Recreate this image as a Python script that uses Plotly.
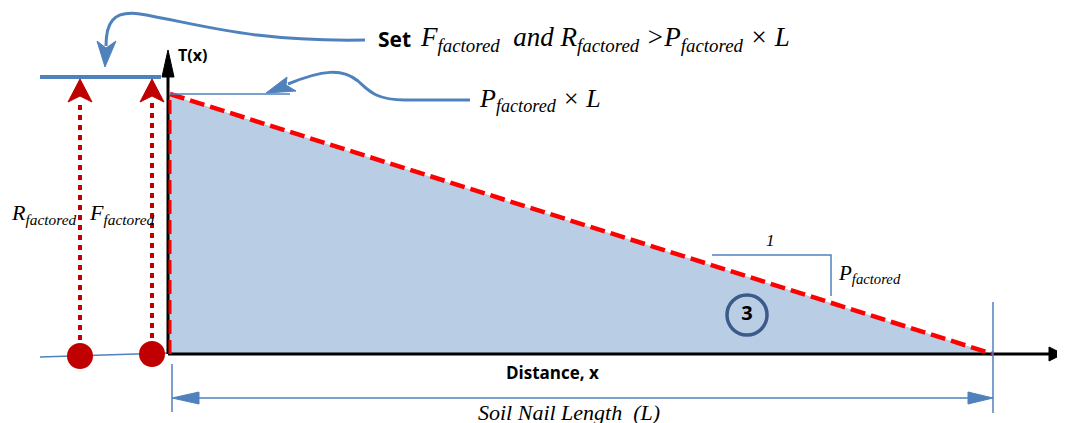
import plotly.graph_objects as go

# diagram geometry (drawing units, y grows downward)
origen = [168, 354]
largo_x = [170, 993]          # soil nail from wall to tip
t_max_y = 94                   # P_factored x L level
eje_x_fin = 1063
eje_y_fin = 50

carga_x = [80, 152]            # R_factored, F_factored arrows
carga_base_y = [356, 354]
barra_x = [40, 161]
barra_y = 77

pendiente_x = [712, 831]
pendiente_y = [255, 296]

cota_y = 398

AZUL = '#4f81bd'
ROJO = '#c00000'
ROJO_CLARO = '#ff0000'
RELLENO = '#b9cde5'
SERIF = 'Liberation Serif'
SANS = 'Open Sans'

fig = go.Figure()

def linea(xs, ys, color, ancho, dash='solid'):
    fig.add_trace(go.Scatter(x=xs, y=ys, mode='lines', hoverinfo='skip',
                             line=dict(color=color, width=ancho, dash=dash)))

def flecha(xs, ys, color):
    fig.add_trace(go.Scatter(x=xs, y=ys, mode='lines', fill='toself', fillcolor=color,
                             hoverinfo='skip', line=dict(color=color, width=1)))

# shaded tension distribution
fig.add_trace(go.Scatter(x=[origen[0], origen[0], largo_x[1], origen[0]],
                         y=[origen[1], t_max_y, origen[1], origen[1]],
                         mode='lines', fill='toself', fillcolor=RELLENO,
                         line=dict(width=0), hoverinfo='skip'))

# blue ground line on the left
linea([40, origen[0]], [357, 353], AZUL, 1.5)

# axes
linea([origen[0], eje_x_fin - 10], [origen[1], origen[1]], 'black', 3)
flecha([eje_x_fin, eje_x_fin - 14, eje_x_fin - 14, eje_x_fin],
       [origen[1], origen[1] - 7, origen[1] + 7, origen[1]], 'black')
linea([origen[0], origen[0]], [origen[1], eje_y_fin + 20], 'black', 3)
flecha([origen[0], origen[0] - 6, origen[0] + 6, origen[0]],
       [eje_y_fin, eje_y_fin + 27, eje_y_fin + 27, eje_y_fin], 'black')

# red dashed envelope
linea([largo_x[0], largo_x[0]], [origen[1], t_max_y], ROJO_CLARO, 3, '14px,6px')
linea([largo_x[0], largo_x[1]], [t_max_y, origen[1]], ROJO_CLARO, 4.5, '15px,6px')

# P x L marker line
linea([largo_x[0], 290], [t_max_y, t_max_y], AZUL, 1.5)

# thick blue bar (set level)
linea(barra_x, [barra_y, barra_y], AZUL, 4)

# R and F arrows
for cx, cy in zip(carga_x, carga_base_y):
    linea([cx, cx], [cy - 16, 100], ROJO, 4, '5px,5px')
    flecha([cx, cx - 12, cx, cx + 12, cx],
           [barra_y + 2, 102, 96, 102, barra_y + 2], ROJO)
fig.add_trace(go.Scatter(x=carga_x, y=carga_base_y, mode='markers', hoverinfo='skip',
                         marker=dict(size=26, color=ROJO)))

# slope triangle
linea([pendiente_x[0], pendiente_x[1], pendiente_x[1]],
      [pendiente_y[0], pendiente_y[0], pendiente_y[1]], AZUL, 1.5)

# circled 3
fig.add_trace(go.Scatter(x=[747], y=[315], mode='markers+text', text=['<b>3</b>'],
                         textfont=dict(family=SANS, size=20, color='black'),
                         hoverinfo='skip',
                         marker=dict(size=40, color='rgba(0,0,0,0)',
                                     line=dict(color='#3b5a8a', width=3.5))))

# dimension line for nail length
linea([172, 172], [364, 412], AZUL, 1.5)
linea([largo_x[1], largo_x[1]], [302, 413], AZUL, 1.5)
linea([190, 975], [cota_y, cota_y], AZUL, 1.5)
flecha([172, 199, 199, 172], [cota_y, cota_y - 6, cota_y + 6, cota_y], AZUL)
flecha([largo_x[1], 968, 968, largo_x[1]], [cota_y, cota_y - 6, cota_y + 6, cota_y], AZUL)

# curved call-out arrows
fig.add_shape(type='path', path='M 365 40 C 250 42, 200 24, 140 14 C 112 10, 106 24, 106 46',
              line=dict(color=AZUL, width=3))
flecha([105, 97, 106, 116, 105], [67, 41, 48, 41, 67], AZUL)
fig.add_shape(type='path',
              path='M 470 100 L 405 100 C 375 100, 368 90, 358 81 C 342 68, 322 70, 288 84',
              line=dict(color=AZUL, width=3))
flecha([266, 287, 286, 296, 266], [93, 77, 85, 91, 93], AZUL)

sub = '<sub>factored</sub>'
textos = [
    (376, 39, 'left', '<b>Set</b>', SANS, 21, False),
    (418, 39, 'left', f'F{sub}  and R{sub} &gt;P{sub} × L', SERIF, 27, True),
    (477, 100, 'left', f'P{sub} × L', SERIF, 26, True),
    (9, 214, 'left', f'R{sub}', SERIF, 22, True),
    (87, 214, 'left', f'F{sub}', SERIF, 22, True),
    (836, 274, 'left', f'P{sub}', SERIF, 21, True),
    (770, 240, 'center', '1', SERIF, 17, True),
    (176, 55, 'left', '<b>T(x)</b>', SANS, 16, False),
    (552, 372, 'center', '<b>Distance, x</b>', SANS, 17, False),
    (569, 412, 'center', 'Soil Nail Length  (L)', SERIF, 22, True),
]
for x, y, anc, t, fam, size, it in textos:
    fig.add_annotation(x=x, y=y, xanchor=anc, yanchor='middle', showarrow=False,
                       text=f'<i>{t}</i>' if it else t,
                       font=dict(family=fam, size=size, color='black'))

# page body adds an 8px offset, so the drawing window is shifted to compensate
fig.update_layout(width=1065, height=423, margin=dict(l=0, r=0, t=0, b=0),
                  paper_bgcolor='white', plot_bgcolor='white', showlegend=False,
                  xaxis=dict(range=[8, 1073], visible=False),
                  yaxis=dict(range=[431, 8], visible=False))

fig.write_html("out.html")
